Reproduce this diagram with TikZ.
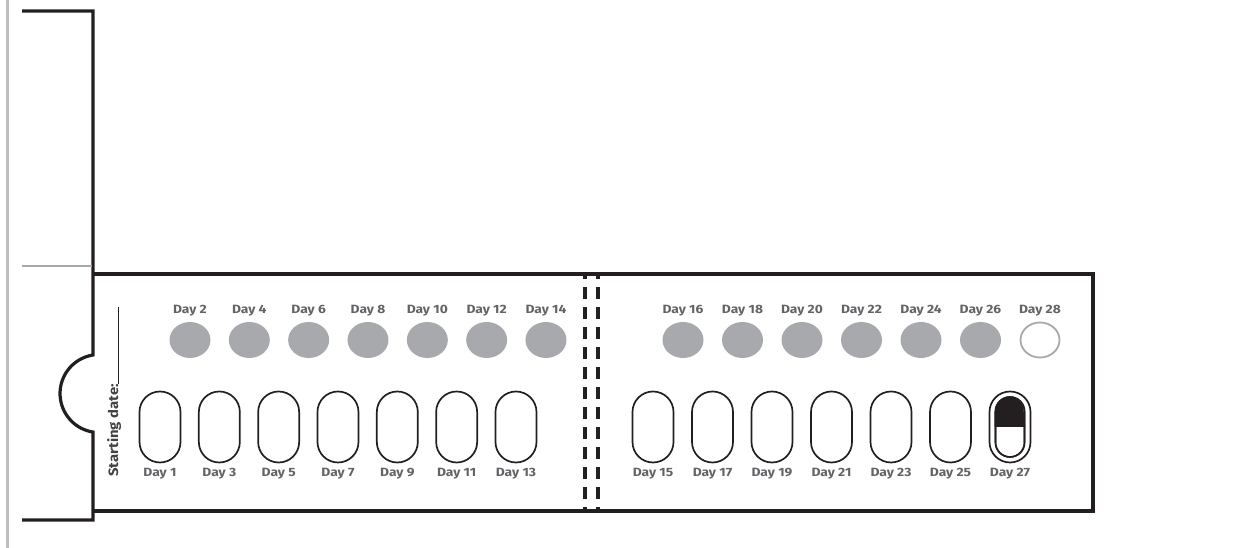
\documentclass[tikz,border=0pt]{standalone}
\usepackage{fontspec}
\setmainfont{Fira Sans}
\newfontfamily\dayfont[FakeStretch=1.15]{Fira Sans}
\newfontfamily\datefont[FakeStretch=1.1]{Fira Sans}
\usetikzlibrary{shapes.geometric}
\definecolor{ink}{HTML}{231F20}
\definecolor{dotgray}{HTML}{A7A9AC}
\definecolor{lblgray}{HTML}{626366}
\definecolor{bargray}{HTML}{BCBEC0}
\begin{document}
\begin{tikzpicture}[x=1pt,y=1pt,
  frame/.style={draw=ink, line width=3.2pt},
  pill/.style={draw=ink, line width=1.7pt, rounded corners=20.5pt, minimum width=41pt, minimum height=71pt, inner sep=0pt},
  innerpill/.style={draw=ink, line width=1.6pt, rounded corners=14.5pt, minimum width=29pt, minimum height=60pt, inner sep=0pt},
  dot/.style={ellipse, fill=dotgray, minimum width=41pt, minimum height=36pt, inner sep=0pt},
  emptydot/.style={ellipse, draw=dotgray, line width=1.8pt, fill=white, minimum width=39pt, minimum height=35pt, inner sep=0pt},
  daylbl/.style={text=lblgray, font=\dayfont\bfseries\fontsize{12}{14}\selectfont, inner sep=0pt, anchor=base},
  perf/.style={draw=ink, line width=4pt, dash pattern=on 11.5pt off 8.5pt, dash phase=6.5pt}
]
\useasboundingbox (0,0) rectangle (1253,548);
% left grey bar
\draw[bargray, line width=3pt] (7.5,0) -- (7.5,548);
% bracket with notch
\coordinate (bt) at (22,537);
\coordinate (btr) at (93,537);
\coordinate (nt) at (93,193);
\coordinate (nb) at (93,116);
\coordinate (bbr) at (93,28);
\coordinate (bb) at (22,28);
\draw[frame] (bt) -- (btr) -- (nt) arc[start angle=98.9, end angle=261.1, radius=39] -- (bbr) -- (bb);
\coordinate (gl) at (22,282);
\coordinate (gr) at (91.6,282);
\draw[dotgray, line width=2.5pt] (gl) -- (gr);
% main card
\coordinate (ctl) at (93,274);
\coordinate (ctr) at (1093,274);
\coordinate (cbr) at (1093,37);
\coordinate (cbl) at (93,37);
\draw[frame] (ctl) -- (ctr) -- (cbr) -- (cbl);
% perforation
\coordinate (pa1) at (584.5,274);
\coordinate (pa2) at (584.5,37);
\coordinate (pb1) at (598,274);
\coordinate (pb2) at (598,37);
\draw[perf] (pa1) -- (pa2);
\draw[perf] (pb1) -- (pb2);
% starting date
\node[rotate=90, anchor=base west, inner sep=0pt, text=ink!85, font=\datefont\bfseries\fontsize{13.5}{15}\selectfont] (sd) at (118,71) {Starting date:};
\coordinate (sdend) at (118,241);
\draw[ink, line width=0.8pt] (sd.base east) -- (sdend);
% left half days
\foreach \i in {0,...,6} {
  \pgfmathsetmacro\xo{160+59.33*\i}
  \pgfmathsetmacro\xe{190+59.33*\i}
  \pgfmathtruncatemacro\dodd{2*\i+1}
  \pgfmathtruncatemacro\deven{2*\i+2}
  \node[pill] (p\dodd) at (\xo,121) {};
  \node[daylbl] (l\dodd) at (\xo,71) {Day \dodd};
  \node[dot] (p\deven) at (\xe,208) {};
  \node[daylbl] (l\deven) at (\xe,234) {Day \deven};
}
% right half days
\foreach \i in {0,...,6} {
  \pgfmathsetmacro\xo{653+59.5*\i}
  \pgfmathsetmacro\xe{683+59.5*\i}
  \pgfmathtruncatemacro\dodd{2*\i+15}
  \pgfmathtruncatemacro\deven{2*\i+16}
  \node[pill] (p\dodd) at (\xo,121) {};
  \node[daylbl] (l\dodd) at (\xo,71) {Day \dodd};
  \ifnum\deven<28
    \node[dot] (p\deven) at (\xe,208) {};
  \else
    \node[emptydot] (p\deven) at (\xe,208) {};
  \fi
  \node[daylbl] (l\deven) at (\xe,234) {Day \deven};
}
% day 27 marker
\node[innerpill] (p27in) at (p27.center) {};
\fill[ink] (p27in.west) -- ++(0,15.5) arc[start angle=180, end angle=0, radius=14.5] -- (p27in.east) -- cycle;
\node[innerpill] at (p27.center) {};
\end{tikzpicture}
\end{document}
